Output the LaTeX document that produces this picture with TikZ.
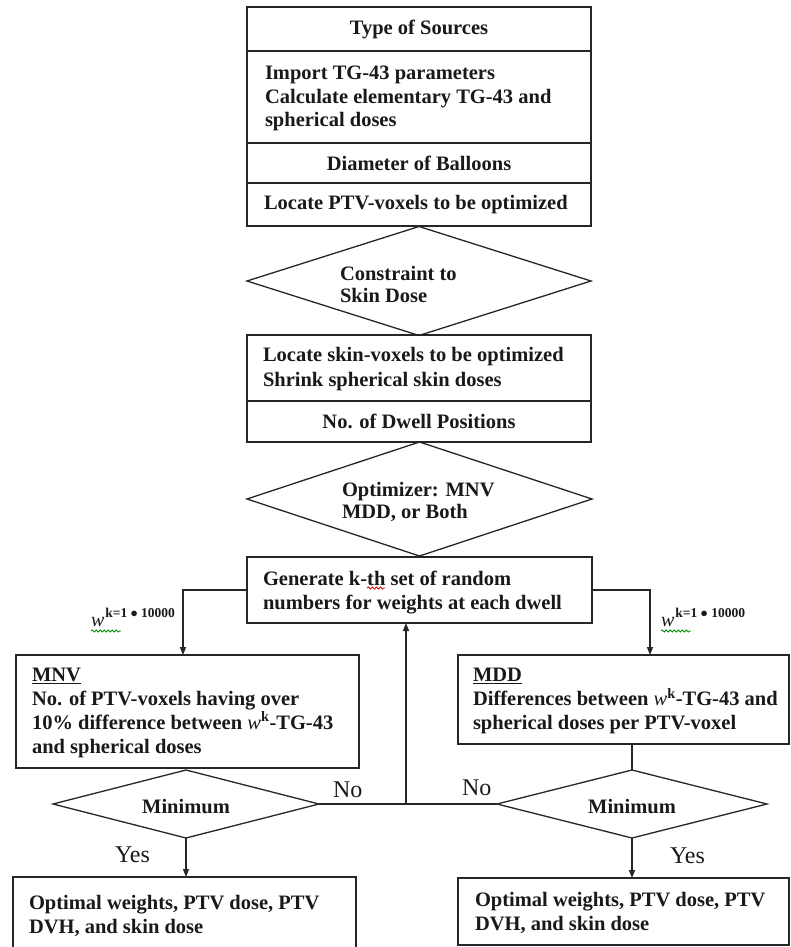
\documentclass[tikz,border=0pt]{standalone}
\usepackage{fontspec}
\setmainfont{Liberation Serif}
\usetikzlibrary{shapes.geometric,arrows.meta,decorations.pathmorphing}
\begin{document}
\begin{tikzpicture}[x=1pt,y=-1pt,
  every node/.style={inner sep=0pt, outer sep=0pt},
  box/.style={draw=black!85, line width=1.3pt, rectangle},
  dia/.style={draw=black!85, line width=1.3pt, diamond},
  btxt/.style={font=\fontsize{20.5}{23.5}\selectfont\bfseries, align=left, text=black!90},
  ctxt/.style={btxt, align=center},
  conn/.style={draw=black!85, line width=1.3pt},
  arr/.style={conn, -{Triangle[length=8pt,width=6pt]}},
  yn/.style={font=\fontsize{24}{28}\selectfont, anchor=base west, text=black!90},
  wlab/.style={font=\fontsize{20}{22}\selectfont\itshape, anchor=base west, text=black!90},
  wsup/.style={font=\fontsize{13.5}{15}\selectfont\bfseries, anchor=base west, text=black!90},
  squig/.style={decorate, decoration={snake, amplitude=1.1pt, segment length=4pt}, line width=0.8pt}
]
\useasboundingbox (0,0) rectangle (790,947);
\fill[white] (0,0) rectangle (790,947);

% top stack
\node[box, ctxt, minimum width=344pt, minimum height=44pt] (t1) at (419,29) {Type of Sources};
\node[box, minimum width=344pt, minimum height=92pt] (t2) at (419,97) {};
\node[btxt, anchor=west] (t2t) at (265,98.5) {Import TG-43 parameters\\Calculate elementary TG-43 and\\spherical doses};
\node[box, ctxt, minimum width=344pt, minimum height=40pt] (t3) at (419,163) {Diameter of Balloons};
\node[box, minimum width=344pt, minimum height=43pt] (t4) at (419,204.5) {};
\node[btxt, anchor=west] (t4t) at (264,204.5) {Locate PTV-voxels to be optimized};

% diamond 1
\node[dia, minimum width=344pt, minimum height=109pt] (d1) at (419,281) {};
\node[btxt, anchor=west, font=\fontsize{20.5}{22}\selectfont\bfseries] (d1t) at (340,284) {Constraint to\\Skin Dose};

% skin stack
\node[box, minimum width=344pt, minimum height=66pt] (s1) at (419,368) {};
\node[btxt, anchor=west, font=\fontsize{20.5}{25}\selectfont\bfseries] (s1t) at (263,369) {Locate skin-voxels to be optimized\\Shrink spherical skin doses};
\node[box, ctxt, minimum width=344pt, minimum height=41pt] (s2) at (419,421.5) {No. of Dwell Positions};

% diamond 2
\node[dia, minimum width=345pt, minimum height=114pt] (d2) at (419.5,499) {};
\node[btxt, anchor=west, font=\fontsize{20.5}{22}\selectfont\bfseries] (d2t) at (342,502) {Optimizer: MNV\\MDD, or Both};

% generate
\node[box, minimum width=345pt, minimum height=66pt] (gen) at (419.5,590) {};
\node[btxt, anchor=base west] (g1) at (263,585) {Generate k-};
\node[btxt, anchor=base west] (g2) at (g1.base east) {th};
\node[btxt, anchor=base west] (g3) at (g2.base east) {\ set of random};
\node[btxt, anchor=base west] (g4) at (263,609) {numbers for weights at each dwell};

% MNV / MDD boxes
\node[box, minimum width=343pt, minimum height=113pt] (mnv) at (187.5,711.5) {};
\node[btxt, anchor=west, font=\fontsize{20.5}{23.7}\selectfont\bfseries] (mnvt) at (32,713) {\underline{MNV}\\No. of PTV-voxels having over\\10\% difference between {\mdseries\itshape w}\textsuperscript{k}-TG-43\\and spherical doses};
\node[box, minimum width=331pt, minimum height=89pt] (mdd) at (623.5,699.5) {};
\node[btxt, anchor=west, font=\fontsize{20.5}{24}\selectfont\bfseries] (mddt) at (473,701) {\underline{MDD}\\Differences between {\mdseries\itshape w}\textsuperscript{k}-TG-43 and\\spherical doses per PTV-voxel};

% minimum diamonds
\node[dia, minimum width=266pt, minimum height=68pt] (dl) at (186,804) {};
\node[ctxt] (dlt) at (186,807) {Minimum};
\node[dia, minimum width=270pt, minimum height=68pt] (dr) at (632,804) {};
\node[ctxt] (drt) at (632,807) {Minimum};

% output boxes
\node[box, minimum width=343pt, minimum height=88pt] (ol) at (184.5,921) {};
\node[btxt, anchor=west, font=\fontsize{20.5}{24}\selectfont\bfseries] (olt) at (29,916) {Optimal weights, PTV dose, PTV\\DVH, and skin dose};
\node[box, minimum width=331pt, minimum height=67pt] (or) at (623.5,911.5) {};
\node[btxt, anchor=west, font=\fontsize{20.5}{24}\selectfont\bfseries] (ort) at (475,913) {Optimal weights, PTV dose, PTV\\DVH, and skin dose};

% connectors
\draw[arr] (gen.west) -| ([xshift=-4.5pt]mnv.north);
\draw[arr] (gen.east) -| ([xshift=26.5pt]mdd.north);
\draw[conn] (dr.north |- mdd.south) -- (dr.north);
\draw[conn] (dl.east) -- (dr.west);
\coordinate (jn) at (406,804);
\draw[arr] (jn) -- (jn |- gen.south);
\draw[arr] (dl.south) -- (dl.south |- ol.north);
\draw[arr] (dr.south) -- (dr.south |- or.north);

% labels
\node[yn] (no1) at (333,797) {No};
\node[yn] (no2) at (462,795) {No};
\node[yn] (yes1) at (115,862) {Yes};
\node[yn] (yes2) at (670,863) {Yes};
\node[wlab] (w1) at (91,626) {w};
\node[wsup] (w1s) at ([xshift=1pt,yshift=9pt]w1.base east) {k=1 $\bullet$ 10000};
\node[wlab] (w2) at (661,626) {w};
\node[wsup] (w2s) at ([xshift=1pt,yshift=9pt]w2.base east) {k=1 $\bullet$ 10000};

% proofing squiggles
\draw[squig, green!55!black] ([yshift=-5pt]w1.base west) -- ++(30,0);
\draw[squig, green!55!black] ([yshift=-5pt]w2.base west) -- ++(30,0);
\draw[squig, red!80!black] ([yshift=-3pt]g2.base west) -- ([yshift=-3pt]g2.base east);
\end{tikzpicture}
\end{document}
